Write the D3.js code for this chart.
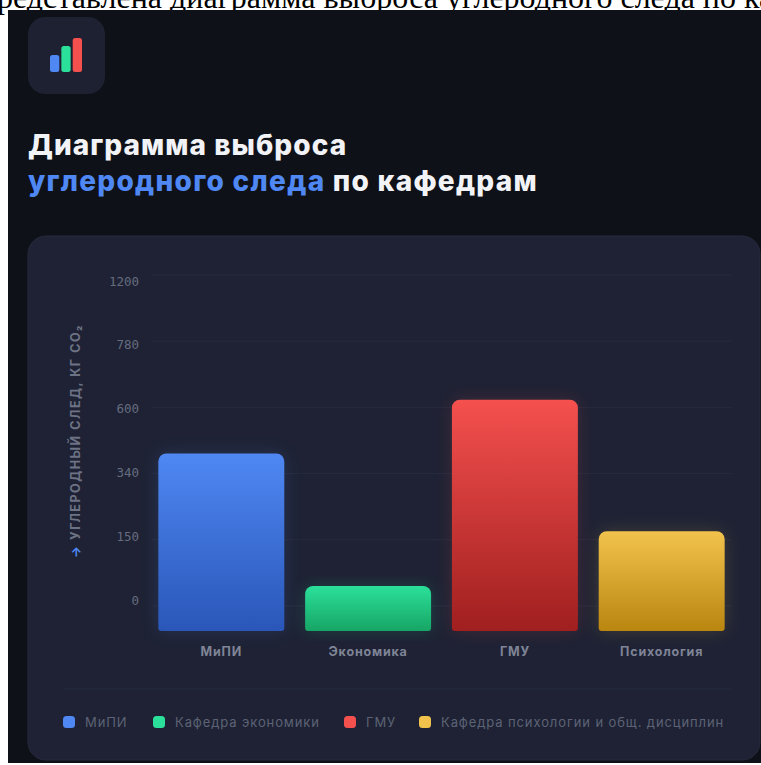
<!DOCTYPE html>
<html lang="ru">
<head>
<meta charset="utf-8">
<script src="https://cdn.jsdelivr.net/npm/d3@7"></script>
<style>
  html, body { margin: 0; padding: 0; background: #fff; overflow: hidden; }
  svg { display: block; }
</style>
</head>
<body>
<svg id="chart" width="761" height="765"></svg>
<script>
// Данные диаграммы
const categories = ["МиПИ", "Экономика", "ГМУ", "Психология"];
const emissions = [417, 33, 625, 165];
const tickValues = [0, 150, 340, 600, 780, 1200];
const legendLabels = ["МиПИ", "Кафедра экономики", "ГМУ", "Кафедра психологии и общ. дисциплин"];
const topColors = ["#4f88f3", "#2be09a", "#f4504e", "#f2c34c"];
const bottomColors = ["#2a56b8", "#17a565", "#a01f1f", "#b98610"];
const legendColors = ["#4f88f3", "#2be09a", "#f4504e", "#f2c34c"];
const legendX = [63, 153, 344, 419];
const iconHeights = [17, 26, 34];

const W = 761, H = 765;
const svg = d3.select("#chart");
const defs = svg.append("defs");

const sansFont = "Inter, 'Noto Sans', sans-serif";
const monoFont = "'DejaVu Sans Mono', monospace";

// Мягкое свечение столбцов
const glow = defs.append("filter").attr("id", "glow")
  .attr("x", "-20%").attr("y", "-20%").attr("width", "140%").attr("height", "140%");
glow.append("feGaussianBlur").attr("stdDeviation", 9);

categories.forEach((c, i) => {
  const g = defs.append("linearGradient").attr("id", "bar" + i)
    .attr("x1", 0).attr("y1", 0).attr("x2", 0).attr("y2", 1);
  g.append("stop").attr("offset", "0%").attr("stop-color", topColors[i]);
  g.append("stop").attr("offset", "100%").attr("stop-color", bottomColors[i]);
});

// Белый фон и строка текста над тёмным блоком
svg.append("rect").attr("width", W).attr("height", H).attr("fill", "#fff");
svg.append("text").attr("x", -3).attr("y", 8)
  .attr("font-family", "'Liberation Serif', serif").attr("font-size", 32).attr("fill", "#000")
  .text("редставлена диаграмма выброса углеродного следа по ка");

// Тёмный блок
svg.append("rect").attr("x", 8).attr("y", 10).attr("width", W - 8).attr("height", H - 12).attr("fill", "#0e1118");

// Значок
svg.append("rect").attr("x", 28).attr("y", 17).attr("width", 77).attr("height", 77).attr("rx", 17).attr("fill", "#1d2131");
const iconX = d3.scaleBand().domain(d3.range(3)).range([50, 82]).paddingInner(0.18);
svg.append("g").selectAll("rect").data(iconHeights).join("rect")
  .attr("x", (d, i) => iconX(i)).attr("width", iconX.bandwidth())
  .attr("y", d => 72 - d).attr("height", d => d).attr("rx", 2.5)
  .attr("fill", (d, i) => topColors[i]);

// Заголовок
const title = svg.append("g").attr("font-family", sansFont).attr("font-weight", 800)
  .attr("font-size", 28).attr("fill", "#f2f3f6");
title.append("text").attr("x", 28).attr("y", 155).attr("letter-spacing", 1.05).text("Диаграмма выброса");
const line2 = title.append("text").attr("x", 28).attr("y", 191).attr("letter-spacing", 1.28);
line2.append("tspan").attr("fill", "#4f88f3").text("углеродного следа");
line2.append("tspan").text(" по кафедрам");

// Карточка с диаграммой
svg.append("rect").attr("x", 28).attr("y", 236).attr("width", 732).attr("height", 524).attr("rx", 18)
  .attr("fill", "#1e2234").attr("stroke", "#262b3d");

// Шкала значений: деления идут равномерно, поэтому она кусочно-линейная
const tickY = d3.scalePoint().domain(tickValues).range([600, 281]);
const y = d3.scaleLinear().domain(tickValues).range(tickValues.map(v => tickY(v)));
const gridY = d3.scalePoint().domain(tickValues).range([606, 275]);
const floorY = 631;
const x = d3.scaleBand().domain(categories).range([151, 732]).paddingInner(0.142).paddingOuter(0.05);

// Линии сетки
svg.append("g").selectAll("line").data(tickValues).join("line")
  .attr("x1", 152).attr("x2", 731)
  .attr("y1", d => gridY(d)).attr("y2", d => gridY(d))
  .attr("stroke", "#272b3e").attr("stroke-width", 1);

// Подписи делений
const axis = d3.axisLeft(y).tickValues(tickValues).tickFormat(d3.format("d")).tickSize(0).tickPadding(0);
const axisG = svg.append("g").attr("transform", "translate(139,0)").call(axis);
axisG.select(".domain").remove();
axisG.selectAll("text").attr("font-family", monoFont).attr("font-size", 12.5).attr("fill", "#666c7f");

// Контур столбца: верхние углы круглее нижних
function barPath(left, width, top, bottom) {
  const rt = 8, rb = 3;
  const p = d3.path();
  p.moveTo(left, bottom - rb);
  p.lineTo(left, top + rt);
  p.arcTo(left, top, left + rt, top, rt);
  p.lineTo(left + width - rt, top);
  p.arcTo(left + width, top, left + width, top + rt, rt);
  p.lineTo(left + width, bottom - rb);
  p.arcTo(left + width, bottom, left + width - rb, bottom, rb);
  p.lineTo(left + rb, bottom);
  p.arcTo(left, bottom, left, bottom - rb, rb);
  p.closePath();
  return p.toString();
}
const barShape = (d, i) => barPath(x(categories[i]), x.bandwidth(), y(d), floorY);

// Столбцы: свечение и сама заливка
const bars = svg.append("g");
bars.selectAll("path.glow").data(emissions).join("path").attr("class", "glow")
  .attr("d", barShape)
  .attr("fill", (d, i) => topColors[i]).attr("opacity", 0.17).attr("filter", "url(#glow)");
bars.selectAll("path.bar").data(emissions).join("path").attr("class", "bar")
  .attr("d", barShape)
  .attr("fill", (d, i) => `url(#bar${i})`);

// Подписи категорий
svg.append("g").selectAll("text").data(categories).join("text")
  .attr("x", d => x(d) + x.bandwidth() / 2).attr("y", 656).attr("text-anchor", "middle")
  .attr("font-family", sansFont).attr("font-weight", 700).attr("font-size", 12.5)
  .attr("letter-spacing", 0.8).attr("fill", "#7f8496").text(d => d);

// Подпись оси
const axisTitle = svg.append("text").attr("transform", "translate(80,441) rotate(-90)")
  .attr("text-anchor", "middle").attr("font-family", sansFont).attr("font-weight", 700)
  .attr("font-size", 12.5).attr("letter-spacing", 1.55).attr("fill", "#6d7385");
axisTitle.append("tspan").attr("fill", "#4f88f3").text("→ ");
axisTitle.append("tspan").text("УГЛЕРОДНЫЙ СЛЕД, КГ CO₂");

// Разделитель и легенда
svg.append("line").attr("x1", 63).attr("x2", 731).attr("y1", 689).attr("y2", 689).attr("stroke", "#272b3e");
const legend = svg.append("g").selectAll("g").data(legendLabels).join("g")
  .attr("transform", (d, i) => `translate(${legendX[i]},722)`);
legend.append("rect").attr("x", 0).attr("y", -6).attr("width", 12).attr("height", 12).attr("rx", 3.5)
  .attr("fill", (d, i) => legendColors[i]);
legend.append("text").attr("x", 22).attr("y", 4.5)
  .attr("font-family", sansFont).attr("font-size", 13).attr("letter-spacing", 0.9)
  .attr("fill", "#5d6375").text(d => d);
</script>
</body>
</html>
